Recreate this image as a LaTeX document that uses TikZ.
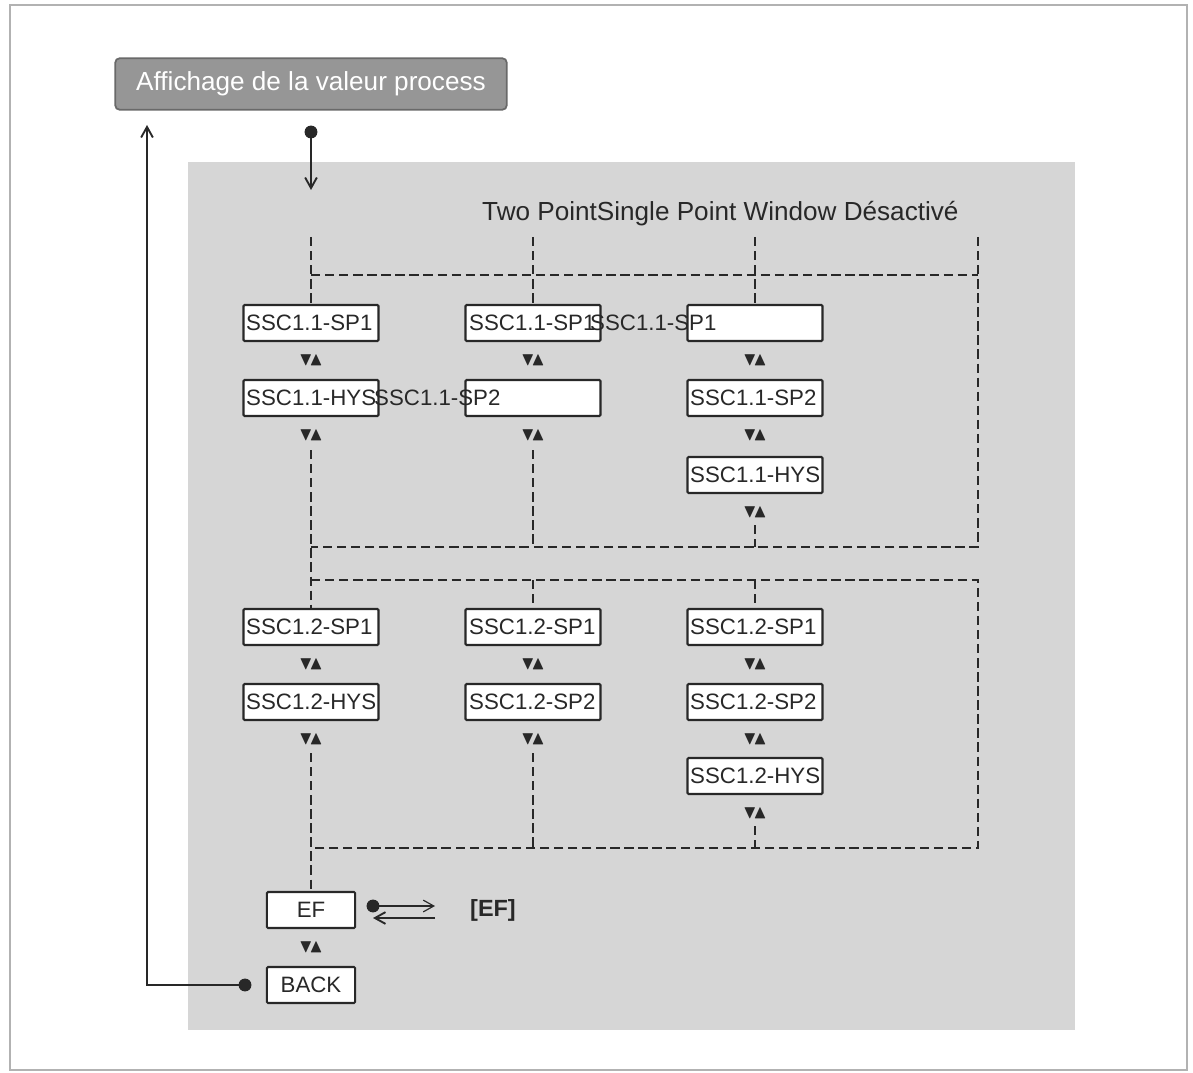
\documentclass[tikz,border=0pt]{standalone}
\usepackage{fontspec}
\setmainfont{Liberation Sans}
\usepackage{amssymb}
\usetikzlibrary{arrows,arrows.meta}
\tikzstyle{block} = [draw, fill=white, rectangle, line width=1.8pt, rounded corners=1pt,
    minimum height=1.08cm, minimum width=4.05cm, inner sep=1pt]
\tikzstyle{lbl} = [anchor=west, inner sep=0pt, font=\fontsize{19}{22}\selectfont]
\tikzstyle{keys} = [inner sep=0pt, font=\fontsize{16}{18}\selectfont]
\tikzstyle{link} = [line width=1.6pt, dashed, dash pattern=on 8pt off 4pt]
\tikzstyle{wire} = [line width=1.6pt, -{Straight Barb[length=9pt,width=10pt]}]
\definecolor{panel}{RGB}{214,214,214}
\definecolor{title}{RGB}{150,150,150}
\definecolor{ink}{RGB}{40,40,40}

\begin{document}
\begin{tikzpicture}[x=0.03cm, y=-0.03cm, color=ink]
    \useasboundingbox (0,0) rectangle (1193,1073);
    \draw [gray!60, line width=1pt] (10,5) rectangle (1187,1070);
    \fill [panel] (188,162) rectangle (1075,1030);
    % We start by placing the blocks
    \node [draw=title!70!black, line width=1.5pt, fill=title, rounded corners=4pt, text=white,
        minimum width=11.75cm, minimum height=1.55cm,
        font=\fontsize{22.3}{26}\selectfont] (process) at (311,84) {Affichage de la valeur process};
    \node [anchor=west, inner sep=0pt, font=\fontsize{22.3}{26}\selectfont] (modes) at (482,214)
        {Two PointSingle Point Window Désactivé};
    % first set point group
    \node [block] (a1) at (311,323) {};
    \node [block] (b1) at (533,323) {};
    \node [block] (c1) at (755,323) {};
    \node [block] (a2) at (311,398) {};
    \node [block] (b2) at (533,398) {};
    \node [block] (c2) at (755,398) {};
    \node [block] (c3) at (755,475) {};
    % second set point group
    \node [block] (d1) at (311,627) {};
    \node [block] (e1) at (533,627) {};
    \node [block] (f1) at (755,627) {};
    \node [block] (d2) at (311,702) {};
    \node [block] (e2) at (533,702) {};
    \node [block] (f2) at (755,702) {};
    \node [block] (f3) at (755,776) {};
    \node [block, minimum width=2.65cm] (ef) at (311,910) {};
    \node [block, minimum width=2.65cm] (back) at (311,985) {};
    % The texts go on top, some of them run over the next box
    \node [lbl] at (246,323) {SSC1.1-SP1};
    \node [lbl] at (469,323) {SSC1.1-SP1};
    \node [lbl] at (590,323) {SSC1.1-SP1};
    \node [lbl] at (246,398) {SSC1.1-HYS};
    \node [lbl] at (374,398) {SSC1.1-SP2};
    \node [lbl] at (690,398) {SSC1.1-SP2};
    \node [lbl] at (690,475) {SSC1.1-HYS};
    \node [lbl] at (246,627) {SSC1.2-SP1};
    \node [lbl] at (469,627) {SSC1.2-SP1};
    \node [lbl] at (690,627) {SSC1.2-SP1};
    \node [lbl] at (246,702) {SSC1.2-HYS};
    \node [lbl] at (469,702) {SSC1.2-SP2};
    \node [lbl] at (690,702) {SSC1.2-SP2};
    \node [lbl] at (690,776) {SSC1.2-HYS};
    \node [lbl, anchor=center] at (ef) {EF};
    \node [lbl, anchor=center] at (back) {BACK};
    \node [lbl, font=\bfseries\fontsize{20}{22}\selectfont] (efp) at (470,910) {[EF]};
    % up and down keys
    \foreach \x/\y in {311/360, 533/360, 755/360, 311/435, 533/435, 755/435, 755/512,
        311/664, 533/664, 755/664, 311/739, 533/739, 755/739, 755/813, 311/947}
        \node [keys] at (\x,\y) {$\blacktriangledown\!\blacktriangle$};
    % dashed paths between the groups
    \coordinate (top1) at (311,237);
    \coordinate (top2) at (533,237);
    \coordinate (top3) at (755,237);
    \coordinate (top4) at (978,237);
    \draw [link] (top1) -- (a1.north);
    \draw [link] (top2) -- (b1.north);
    \draw [link] (top3) -- (c1.north);
    \draw [link] (311,275) -- (978,275);
    \draw [link] (top4) -- (978,547) -- (311,547);
    \draw [link] (311,450) -- (d1.north);
    \draw [link] (533,450) -- (533,547);
    \draw [link] (755,525) -- (755,547);
    \draw [link] (311,580) -- (978,580) -- (978,848) -- (311,848);
    \draw [link] (533,580) -- (e1.north);
    \draw [link] (755,580) -- (f1.north);
    \draw [link] (311,753) -- (ef.north);
    \draw [link] (533,753) -- (533,848);
    \draw [link] (755,826) -- (755,848);
    % solid connectors
    \coordinate (din) at (311,132);
    \coordinate (dback) at (245,985);
    \coordinate (dout) at (373,906);
    \fill (din) circle (5.5pt) (dback) circle (5.5pt) (dout) circle (5.5pt);
    \draw [wire] (din) -- (311,190);
    \draw [wire] (dback) -- (147,985) -- (147,125);
    \draw [wire, line width=1pt] (dout) -- (435,906);
    \draw [wire] (435,918) -- (373,918);
\end{tikzpicture}
\end{document}
